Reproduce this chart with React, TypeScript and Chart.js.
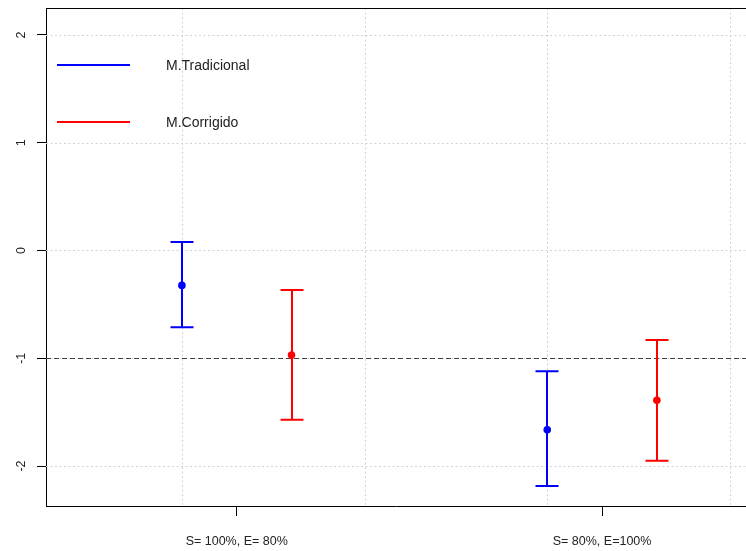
import React, { useEffect, useRef } from 'react';
import { Chart, registerables } from 'chart.js';

Chart.register(...registerables);

// ---- Data ----
const categories = ['S= 100%, E= 80%', 'S= 80%, E=100%'];
const categoryPositions = [1, 2];
const seriesNames = ['M.Tradicional', 'M.Corrigido'];
const seriesColors = ['#0000FF', '#FF0000'];
const seriesOffsets = [-0.15, 0.15];

const tradMean = [-0.324, -1.663];
const tradLower = [-0.713, -2.186];
const tradUpper = [0.079, -1.121];

const corrMean = [-0.971, -1.39];
const corrLower = [-1.57, -1.951];
const corrUpper = [-0.367, -0.831];

const yTicks = [-2, -1, 0, 1, 2];
const xGridLines = [0.85, 1.35, 1.85, 2.35];
const referenceLine = -1;
const xRange = [0.478, 2.394];
const yRange = [-2.371, 2.25];

const means = [tradMean, corrMean];
const lowers = [tradLower, corrLower];
const uppers = [tradUpper, corrUpper];

const FONT = "'Liberation Sans', Arial, sans-serif";

const decorPlugin = {
  id: 'decor',
  beforeDatasetsDraw(chart: any) {
    const { ctx, chartArea: a, scales } = chart;
    const x = scales.x;
    const y = scales.y;
    ctx.save();
    // dotted grid
    ctx.strokeStyle = '#d3d3d3';
    ctx.lineWidth = 1;
    ctx.setLineDash([2, 2.5]);
    xGridLines.forEach((v) => {
      const px = Math.round(x.getPixelForValue(v)) + 0.5;
      ctx.beginPath();
      ctx.moveTo(px, a.top);
      ctx.lineTo(px, a.bottom);
      ctx.stroke();
    });
    yTicks.forEach((v) => {
      const py = Math.round(y.getPixelForValue(v)) + 0.5;
      ctx.beginPath();
      ctx.moveTo(a.left, py);
      ctx.lineTo(a.right, py);
      ctx.stroke();
    });
    // dashed reference line
    ctx.strokeStyle = '#404040';
    ctx.setLineDash([5, 3]);
    const ry = Math.round(y.getPixelForValue(referenceLine)) + 0.5;
    ctx.beginPath();
    ctx.moveTo(a.left, ry);
    ctx.lineTo(a.right, ry);
    ctx.stroke();
    // error bars
    ctx.setLineDash([]);
    ctx.lineWidth = 2;
    const capHalf = 11.5;
    chart.data.datasets.forEach((ds: any, i: number) => {
      ctx.strokeStyle = ds.backgroundColor;
      ds.data.forEach((pt: any, j: number) => {
        const px = Math.round(x.getPixelForValue(pt.x));
        const pLo = y.getPixelForValue(lowers[i][j]);
        const pHi = y.getPixelForValue(uppers[i][j]);
        ctx.beginPath();
        ctx.moveTo(px, pLo);
        ctx.lineTo(px, pHi);
        ctx.moveTo(px - capHalf, pLo);
        ctx.lineTo(px + capHalf, pLo);
        ctx.moveTo(px - capHalf, pHi);
        ctx.lineTo(px + capHalf, pHi);
        ctx.stroke();
      });
    });
    ctx.restore();
  },
  afterDraw(chart: any) {
    const { ctx, chartArea: a } = chart;
    ctx.save();
    // top border of the box
    ctx.strokeStyle = '#000';
    ctx.lineWidth = 1;
    ctx.beginPath();
    ctx.moveTo(a.left, a.top + 0.5);
    ctx.lineTo(a.right, a.top + 0.5);
    ctx.stroke();
    // legend
    ctx.lineWidth = 2;
    ctx.font = `14px ${FONT}`;
    ctx.textBaseline = 'middle';
    ctx.textAlign = 'left';
    chart.data.datasets.forEach((ds: any, i: number) => {
      const ly = a.top + 57 + i * 57;
      ctx.strokeStyle = ds.backgroundColor;
      ctx.beginPath();
      ctx.moveTo(a.left + 11, ly);
      ctx.lineTo(a.left + 84, ly);
      ctx.stroke();
      ctx.fillStyle = '#222';
      ctx.fillText(ds.label, a.left + 120, ly + 1);
    });
    ctx.restore();
  },
};

export default function App() {
  const canvasRef = useRef<HTMLCanvasElement | null>(null);

  useEffect(() => {
    if (!canvasRef.current) return;
    const datasets = seriesNames.map((name, i) => ({
      label: name,
      data: categoryPositions.map((c, j) => ({ x: c + seriesOffsets[i], y: means[i][j] })),
      backgroundColor: seriesColors[i],
      borderColor: seriesColors[i],
      pointRadius: 3.8,
      pointBorderWidth: 0,
      showLine: false,
    }));
    const chart = new Chart(canvasRef.current, {
      type: 'scatter',
      data: { datasets },
      plugins: [decorPlugin],
      options: {
        animation: false,
        responsive: false,
        events: [],
        layout: { autoPadding: false, padding: { top: 8, right: 0, left: 0, bottom: 0 } },
        plugins: {
          legend: { display: false },
          tooltip: { enabled: false },
        },
        scales: {
          x: {
            type: 'linear',
            min: xRange[0],
            max: xRange[1],
            afterBuildTicks: (scale: any) => {
              scale.ticks = categoryPositions.map((v) => ({ value: v }));
            },
            afterFit: (scale: any) => {
              scale.height = 45;
              scale.paddingLeft = 0;
              scale.paddingRight = 0;
              scale.paddingTop = 0;
              scale.paddingBottom = 0;
            },
            grid: {
              display: true,
              drawOnChartArea: false,
              drawTicks: true,
              tickLength: 10,
              color: '#000',
              tickColor: '#000',
            },
            border: { display: true, color: '#000', width: 1 },
            ticks: {
              autoSkip: false,
              maxRotation: 0,
              minRotation: 0,
              padding: 18,
              color: '#222',
              font: { family: FONT, size: 12.5 },
              callback: (v: any) => {
                const idx = categoryPositions.indexOf(Number(v));
                return idx >= 0 ? categories[idx] : '';
              },
            },
          },
          y: {
            type: 'linear',
            min: yRange[0],
            max: yRange[1],
            afterBuildTicks: (scale: any) => {
              scale.ticks = yTicks.map((v) => ({ value: v }));
            },
            afterFit: (scale: any) => {
              scale.width = 46;
              scale.paddingLeft = 0;
              scale.paddingRight = 0;
              scale.paddingTop = 0;
              scale.paddingBottom = 0;
            },
            grid: {
              display: true,
              drawOnChartArea: false,
              drawTicks: true,
              tickLength: 9,
              color: '#000',
              tickColor: '#000',
            },
            border: { display: true, color: '#000', width: 1 },
            ticks: {
              autoSkip: false,
              minRotation: 90,
              maxRotation: 90,
              crossAlign: 'center',
              padding: 10,
              color: '#222',
              font: { family: FONT, size: 12.5 },
              callback: (v: any) => String(v),
            },
          },
        },
      } as any,
    });
    return () => chart.destroy();
  }, []);

  return (
    <div style={{ position: 'absolute', left: 0, top: 0, width: 746, height: 551, background: '#fff' }}>
      <canvas ref={canvasRef} width={746} height={551} style={{ display: 'block' }} />
    </div>
  );
}
